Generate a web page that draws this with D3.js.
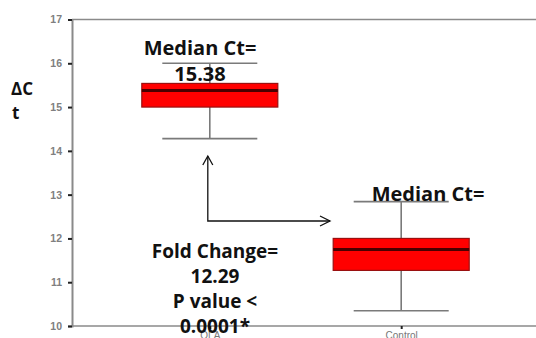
<!DOCTYPE html>
<html>
<head>
<meta charset="utf-8">
<script src="https://cdn.jsdelivr.net/npm/d3@7/dist/d3.min.js"></script>
<style>
  html, body { margin: 0; padding: 0; background: #fff; }
  svg { display: block; }
  .ann { font-family: "Open Sans", sans-serif; font-weight: 700; fill: #111; }
</style>
</head>
<body>
<svg id="chart" width="536" height="338"></svg>
<script>
// Box-plot summaries of ΔCt per group
const categories  = ["OLA", "Control"];
const whiskerLow  = [14.28, 10.35];
const q1          = [15.00, 11.27];
const median      = [15.38, 11.75];
const q3          = [15.54, 12.00];
const whiskerHigh = [16.00, 12.84];
const yTicks      = [10, 11, 12, 13, 14, 15, 16, 17];

const foldChange = "12.29";
const pValue = "0.0001*";

const svg = d3.select("#chart");
const plotLeft = 72, plotRight = 539, plotTop = 19.5, plotBottom = 326;

const y = d3.scaleLinear().domain([10, 17]).range([plotBottom, plotTop]);
const x = d3.scalePoint().domain(categories).range([plotLeft, plotRight]).padding(0.72);

const boxW = 136, capW = 95;
const axisGray = "#8a8a8a";

// frame: top rule
svg.append("line").attr("x1", plotLeft).attr("x2", 536).attr("y1", plotTop).attr("y2", plotTop)
  .attr("stroke", axisGray).attr("stroke-width", 1.6);

// y axis
const yAxis = svg.append("g").attr("transform", `translate(${plotLeft},0)`)
  .call(d3.axisLeft(y).tickValues(yTicks).tickSize(4).tickPadding(6).tickFormat(d3.format("d")));
yAxis.select(".domain").attr("stroke", axisGray).attr("stroke-width", 2);
yAxis.selectAll(".tick line").attr("stroke", "#222").attr("stroke-width", 2);
yAxis.selectAll(".tick text").attr("fill", "#808080")
  .style("font-family", "'Liberation Sans', Arial, sans-serif").style("font-size", "10.5px").style("font-weight", "700");

// x axis
const xAxis = svg.append("g").attr("transform", `translate(0,${plotBottom})`)
  .call(d3.axisBottom(x).tickSize(3).tickPadding(3));
xAxis.select(".domain").attr("d", `M${plotLeft},0H536`).attr("stroke", axisGray).attr("stroke-width", 1.6);
xAxis.selectAll(".tick line").attr("stroke", "#222").attr("stroke-width", 2);
xAxis.selectAll(".tick text").attr("fill", "#777")
  .style("font-family", "'Liberation Sans', Arial, sans-serif").style("font-size", "10px");

// boxes
const idx = d3.range(categories.length);
const g = svg.append("g");
const whisk = "#7a7a7a";

g.selectAll(".stem").data(idx).join("line")
  .attr("x1", i => x(categories[i])).attr("x2", i => x(categories[i]))
  .attr("y1", i => y(whiskerHigh[i])).attr("y2", i => y(whiskerLow[i]))
  .attr("stroke", whisk).attr("stroke-width", 1.6);

[whiskerHigh, whiskerLow].forEach(arr => {
  g.selectAll(null).data(idx).join("line")
    .attr("x1", i => x(categories[i]) - capW / 2).attr("x2", i => x(categories[i]) + capW / 2)
    .attr("y1", i => y(arr[i])).attr("y2", i => y(arr[i]))
    .attr("stroke", whisk).attr("stroke-width", 1.6);
});

g.selectAll(".box").data(idx).join("rect")
  .attr("x", i => x(categories[i]) - boxW / 2).attr("width", boxW)
  .attr("y", i => y(q3[i])).attr("height", i => y(q1[i]) - y(q3[i]))
  .attr("fill", "#ff0000").attr("stroke", "#9a1010").attr("stroke-width", 1.2);

g.selectAll(".med").data(idx).join("line")
  .attr("x1", i => x(categories[i]) - boxW / 2).attr("x2", i => x(categories[i]) + boxW / 2)
  .attr("y1", i => y(median[i])).attr("y2", i => y(median[i]))
  .attr("stroke", "#4a0000").attr("stroke-width", 3);

// arrow between groups
const ax = x(categories[0]) - 2, ayBottom = 221, ayTop = 156, axEnd = 330;
const arrow = svg.append("g").attr("fill", "none").attr("stroke", "#111").attr("stroke-width", 1.3);
arrow.append("path").attr("d", `M${ax},${ayTop}V${ayBottom}H${axEnd}`);
arrow.append("path").attr("d", `M${ax - 5},${ayTop + 9}L${ax},${ayTop}L${ax + 5},${ayTop + 9}`);
arrow.append("path").attr("d", `M${axEnd - 10},${ayBottom - 5}L${axEnd},${ayBottom}L${axEnd - 10},${ayBottom + 5}`);

// annotations
function label(lines, cx, y0, dy, size) {
  const t = svg.append("text").attr("class", "ann").attr("text-anchor", "middle")
    .style("font-size", size + "px");
  lines.forEach((s, k) => t.append("tspan").attr("x", cx).attr("y", y0 + k * dy).text(s));
}
label(["Median Ct=", median[0].toFixed(2)], 200, 55, 26, 20);
label(["Median Ct="], 428, 201, 26, 20);
label(["Fold Change=", foldChange, "P value <", pValue], 215, 258, 25, 19);

// y title
const yt = svg.append("text").attr("class", "ann").style("font-size", "17px");
yt.append("tspan").attr("x", 11).attr("y", 95).text("ΔC");
yt.append("tspan").attr("x", 12).attr("y", 119).text("t");
</script>
</body>
</html>
